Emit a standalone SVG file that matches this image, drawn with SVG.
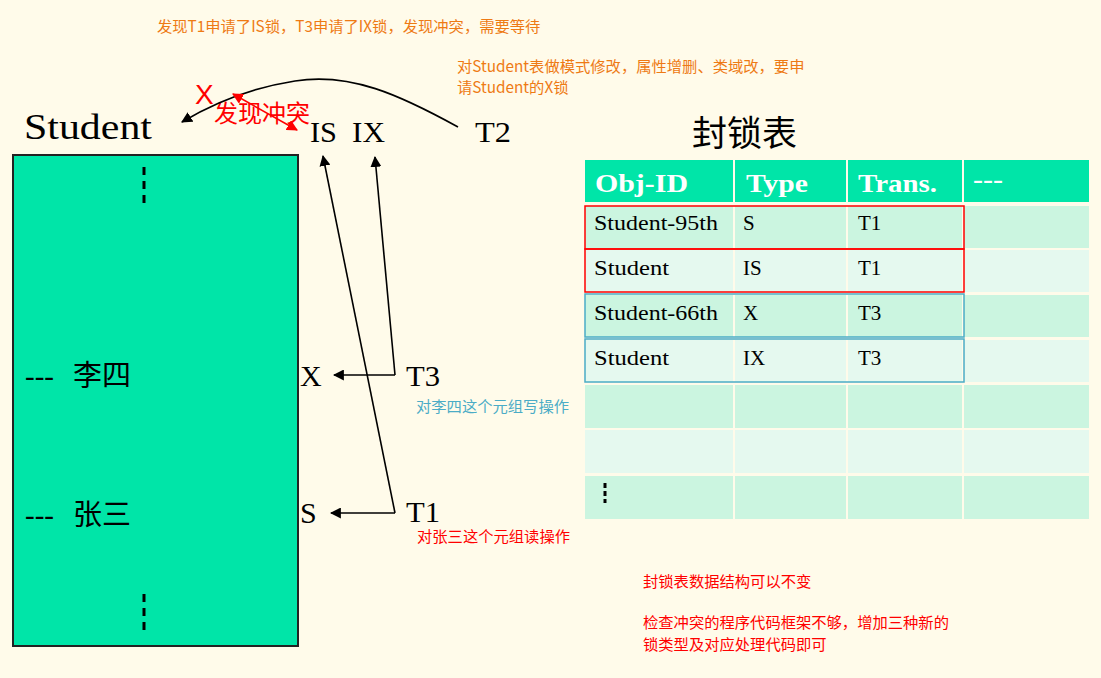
<svg xmlns="http://www.w3.org/2000/svg" width="1101" height="678" viewBox="0 0 1101 678">
<defs>
<marker id="ah" viewBox="0 0 10 10" refX="9" refY="5" markerWidth="11" markerHeight="11" markerUnits="userSpaceOnUse" orient="auto"><path d="M0,0 L10,5 L0,10 z" fill="#000"/></marker>
<marker id="ahr" viewBox="0 0 10 10" refX="9" refY="5" markerWidth="11" markerHeight="11" markerUnits="userSpaceOnUse" orient="auto-start-reverse"><path d="M0,0 L10,5 L0,10 z" fill="#FF0000"/></marker>
<style>
.serif{font-family:"Liberation Serif","Noto Sans CJK SC",serif;fill:#000}
.cjk{font-family:"Noto Sans CJK SC","Liberation Sans",sans-serif}
.note{font-size:15.3px}
.orange{fill:#EE7A14}
.red{fill:#FF0000}
.blue{fill:#4BACC6}
.hdr{font-family:"Liberation Serif",serif;font-size:26px;font-weight:bold;fill:#fff}
.cell{font-family:"Liberation Serif",serif;font-size:21px;fill:#000}
.rowA{fill:#CBF5E0}
.rowB{fill:#E5F9EF}
.hd{fill:#00E5A8}
.ln{stroke:#000;stroke-width:1.6;fill:none}
.dash{stroke:#000;stroke-width:3}
</style>
</defs>
<rect x="0" y="0" width="1101" height="678" fill="#FFFBEA"/>

<g id="student-table">
<rect x="13" y="155" width="285" height="491" fill="#00E5A8" stroke="#222" stroke-width="2"/>
<line class="dash" x1="144" y1="167" x2="144" y2="175"/><line class="dash" x1="144" y1="181" x2="144" y2="189"/><line class="dash" x1="144" y1="195" x2="144" y2="203"/>
<line class="dash" x1="144" y1="594" x2="144" y2="602"/><line class="dash" x1="144" y1="608" x2="144" y2="616"/><line class="dash" x1="144" y1="622" x2="144" y2="630"/>
<text class="serif" x="25" y="386" font-size="29">---</text><text class="serif" x="73" y="386" font-size="29">李四</text>
<text class="serif" x="25" y="525" font-size="29">---</text><text class="serif" x="73" y="525" font-size="29">张三</text>
</g>
<g id="label-student"><text class="serif" x="24" y="139" font-size="36" textLength="128" lengthAdjust="spacingAndGlyphs">Student</text></g>
<g id="label-is"><text class="serif" x="310" y="142" font-size="30" textLength="27" lengthAdjust="spacingAndGlyphs">IS</text></g>
<g id="label-ix"><text class="serif" x="352" y="142" font-size="30" textLength="33" lengthAdjust="spacingAndGlyphs">IX</text></g>
<g id="label-t2"><text class="serif" x="475" y="142" font-size="30" textLength="36" lengthAdjust="spacingAndGlyphs">T2</text></g>
<g id="label-x"><text class="serif" x="300" y="386" font-size="30">X</text></g>
<g id="label-t3"><text class="serif" x="406" y="386" font-size="30" textLength="34" lengthAdjust="spacingAndGlyphs">T3</text></g>
<g id="label-s"><text class="serif" x="300" y="523" font-size="30">S</text></g>
<g id="label-t1"><text class="serif" x="406" y="522" font-size="29" textLength="34" lengthAdjust="spacingAndGlyphs">T1</text></g>

<g id="conflict">
<text x="195" y="104" font-family="Liberation Sans,sans-serif" font-size="28" class="red">X</text>
<text x="214" y="122" class="cjk red" font-size="24">发现冲突</text>
</g>

<g id="connectors">
<path class="ln" d="M458,127 C400,95 350,72 295,81 C250,88 212,104 182,122" marker-end="url(#ah)"/>
<line x1="233" y1="94" x2="297" y2="130" stroke="#FF0000" stroke-width="1.6" marker-start="url(#ahr)" marker-end="url(#ahr)"/>
<polyline class="ln" points="395,375 375,157" marker-end="url(#ah)"/>
<polyline class="ln" points="395,513 323,156" marker-end="url(#ah)"/>
<line class="ln" x1="395" y1="375" x2="334" y2="375" marker-end="url(#ah)"/>
<line class="ln" x1="395" y1="513" x2="331" y2="513" marker-end="url(#ah)"/>
</g>

<g id="notes">
<text x="157" y="32" class="cjk note orange">发现T1申请了IS锁，T3申请了IX锁，发现冲突，需要等待</text>
<text x="457" y="72" class="cjk note orange">对Student表做模式修改，属性增删、类域改，要申</text>
<text x="457" y="93" class="cjk note orange">请Student的X锁</text>
<text x="416" y="412" class="cjk note blue">对李四这个元组写操作</text>
<text x="417" y="542" class="cjk note red">对张三这个元组读操作</text>
<text x="643" y="587" class="cjk note red">封锁表数据结构可以不变</text>
<text x="643" y="628" class="cjk note red">检查冲突的程序代码框架不够，增加三种新的</text>
<text x="643" y="650" class="cjk note red">锁类型及对应处理代码即可</text>
</g>

<g id="lock-table">
<text x="692" y="146" font-family="Noto Sans CJK SC,sans-serif" font-size="35" fill="#000">封锁表</text>
<rect class="hd" x="585" y="160" width="148" height="42"/>
<rect class="hd" x="735" y="160" width="111" height="42"/>
<rect class="hd" x="848" y="160" width="114" height="42"/>
<rect class="hd" x="964" y="160" width="125" height="42"/>
<text class="hdr" x="595" y="192" textLength="93" lengthAdjust="spacingAndGlyphs">Obj-ID</text>
<text class="hdr" x="746" y="192" textLength="62" lengthAdjust="spacingAndGlyphs">Type</text>
<text class="hdr" x="858" y="192" textLength="79" lengthAdjust="spacingAndGlyphs">Trans.</text>
<text class="hdr" x="973" y="188" textLength="30" lengthAdjust="spacingAndGlyphs">---</text>

<g class="rowA"><rect x="585" y="206" width="148" height="42"/><rect x="735" y="206" width="111" height="42"/><rect x="848" y="206" width="114" height="42"/><rect x="964" y="206" width="125" height="42"/></g>
<g class="rowB"><rect x="585" y="250" width="148" height="42"/><rect x="735" y="250" width="111" height="42"/><rect x="848" y="250" width="114" height="42"/><rect x="964" y="250" width="125" height="42"/></g>
<g class="rowA"><rect x="585" y="295" width="148" height="42"/><rect x="735" y="295" width="111" height="42"/><rect x="848" y="295" width="114" height="42"/><rect x="964" y="295" width="125" height="42"/></g>
<g class="rowB"><rect x="585" y="340" width="148" height="42"/><rect x="735" y="340" width="111" height="42"/><rect x="848" y="340" width="114" height="42"/><rect x="964" y="340" width="125" height="42"/></g>
<g class="rowA"><rect x="585" y="385" width="148" height="43"/><rect x="735" y="385" width="111" height="43"/><rect x="848" y="385" width="114" height="43"/><rect x="964" y="385" width="125" height="43"/></g>
<g class="rowB"><rect x="585" y="430" width="148" height="43"/><rect x="735" y="430" width="111" height="43"/><rect x="848" y="430" width="114" height="43"/><rect x="964" y="430" width="125" height="43"/></g>
<g class="rowA"><rect x="585" y="476" width="148" height="43"/><rect x="735" y="476" width="111" height="43"/><rect x="848" y="476" width="114" height="43"/><rect x="964" y="476" width="125" height="43"/></g>

<text class="cell" x="594" y="230" textLength="124" lengthAdjust="spacingAndGlyphs">Student-95th</text><text class="cell" x="743" y="230">S</text><text class="cell" x="858" y="230">T1</text>
<text class="cell" x="594" y="275" textLength="75" lengthAdjust="spacingAndGlyphs">Student</text><text class="cell" x="743" y="275">IS</text><text class="cell" x="858" y="275">T1</text>
<text class="cell" x="594" y="320" textLength="124" lengthAdjust="spacingAndGlyphs">Student-66th</text><text class="cell" x="743" y="320">X</text><text class="cell" x="858" y="320">T3</text>
<text class="cell" x="594" y="365" textLength="75" lengthAdjust="spacingAndGlyphs">Student</text><text class="cell" x="743" y="365">IX</text><text class="cell" x="858" y="365">T3</text>
<line class="dash" x1="605" y1="483" x2="605" y2="488"/><line class="dash" x1="605" y1="491" x2="605" y2="496"/><line class="dash" x1="605" y1="499" x2="605" y2="503"/>

<rect x="585" y="206" width="379" height="43" fill="none" stroke="#FF0000" stroke-width="1.5"/>
<rect x="585" y="249" width="379" height="43" fill="none" stroke="#FF0000" stroke-width="1.5"/>
<rect x="585" y="294" width="379" height="43" fill="none" stroke="#4BACC6" stroke-width="1.5"/>
<rect x="585" y="339" width="379" height="43" fill="none" stroke="#4BACC6" stroke-width="1.5"/>
</g>
</svg>
